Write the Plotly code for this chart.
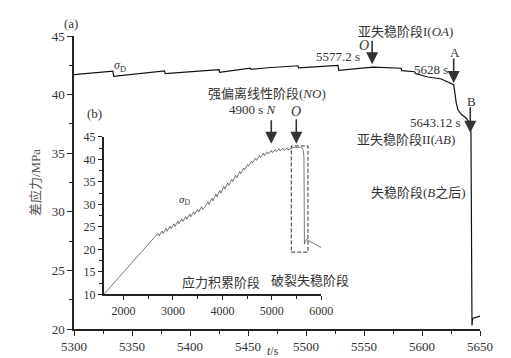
import plotly.graph_objects as go

# Main series (a): time (s) vs differential stress (MPa)
t_main = [5300, 5333.5, 5334.2, 5378, 5378.6, 5425, 5425.6, 5452, 5452.6, 5467,
          5493, 5493.6, 5527.6, 5528.2, 5557.8, 5582, 5582.6, 5593.7, 5594.3,
          5605, 5616, 5622, 5627.3, 5628, 5629.5, 5631, 5634, 5638, 5641,
          5642.2, 5643.1, 5643.6, 5650]
v_main = [41.7, 42.0, 41.55, 42.02, 41.8, 42.12, 41.9, 42.25, 42.15, 42.29,
          42.46, 42.29, 42.49, 42.07, 42.35, 42.25, 42.05, 41.95, 41.8,
          41.5, 41.35, 41.1, 40.85, 40.4, 39.3, 38.7, 38.3, 38.0, 37.6,
          36.8, 20.3, 20.9, 21.1]

# Inset series (b)
t_in = [1600, 2630, 2700, 2720, 2780, 2800, 2860, 2880, 2940, 2960, 3020, 3040,
        3100, 3120, 3180, 3200, 3260, 3280, 3340, 3360, 3420, 3440, 3500, 3520,
        3580, 3600, 3650, 3710, 3730, 3790, 3810, 3870, 3890, 3950, 3970, 4030,
        4050, 4110, 4130, 4190, 4210, 4270, 4290, 4350, 4370, 4430, 4450, 4510,
        4530, 4590, 4610, 4670, 4690, 4750, 4770, 4830, 4850, 4910, 4930, 4990,
        5010, 5070, 5090, 5150, 5170, 5230, 5250, 5310, 5330, 5390, 5420, 5480,
        5560, 5620, 5640, 5650, 5656, 5660, 5672, 5700, 6000]
v_in = [10, 22.7, 23.6, 23.0, 24.1, 23.5, 24.7, 24.0, 25.2, 24.6, 25.7, 25.1,
        26.3, 25.7, 26.8, 26.2, 27.3, 26.7, 27.9, 27.2, 28.4, 27.8, 28.9, 28.3,
        29.5, 28.9, 29.5, 30.6, 30.0, 31.4, 30.8, 32.3, 31.7, 33.1, 32.5, 34.0,
        33.4, 34.8, 34.2, 35.6, 35.1, 36.5, 35.9, 37.3, 36.8, 38.1, 37.7, 38.9,
        38.5, 39.6, 39.2, 40.3, 39.8, 40.9, 40.4, 41.4, 40.8, 41.7, 41.2, 42.0,
        41.5, 42.2, 41.7, 42.4, 41.9, 42.5, 42.0, 42.5, 42.1, 42.4, 42.6, 42.7,
        42.7, 42.5, 41.8, 40.5, 30.0, 21.2, 21.6, 22.2, 20.4]

main_xticks = [5300, 5350, 5400, 5450, 5500, 5550, 5600, 5650]
main_yticks = [20, 25, 30, 35, 40, 45]
in_xticks = [2000, 3000, 4000, 5000, 6000]
in_yticks = [10, 15, 20, 25, 30, 35, 40, 45]

FONT = "Liberation Serif, Noto Sans CJK SC"
TXT = "#333333"

fig = go.Figure()
fig.add_trace(go.Scatter(x=t_main, y=v_main, mode="lines",
                         line=dict(color="#111111", width=1.2),
                         xaxis="x", yaxis="y", showlegend=False))
fig.add_trace(go.Scatter(x=t_in, y=v_in, mode="lines",
                         line=dict(color="#555555", width=0.8),
                         xaxis="x2", yaxis="y2", showlegend=False))

axis_common = dict(showgrid=False, zeroline=False, showline=True,
                   linecolor="#222222", linewidth=1.5, ticks="outside",
                   tickcolor="#222222", tickwidth=1.2, mirror=False)

fig.update_layout(
    width=511, height=358,
    margin=dict(l=66, r=39, t=28, b=31),
    paper_bgcolor="white", plot_bgcolor="white",
    font=dict(family=FONT, color=TXT, size=13),
    xaxis=dict(range=[5300, 5650], tickvals=main_xticks, ticklen=5,
               minor=dict(dtick=25, tick0=5300, ticklen=3, ticks="outside",
                          tickcolor="#222222"),
               tickfont=dict(size=13, color=TXT, family=FONT), **axis_common),
    yaxis=dict(range=[20, 45], tickvals=main_yticks, ticklen=5,
               minor=dict(dtick=2.5, tick0=20, ticklen=3, ticks="outside",
                          tickcolor="#222222"),
               tickfont=dict(size=13, color=TXT, family=FONT),
               title=dict(text="差应力/MPa",
                          font=dict(size=13, color="#555555", family=FONT),
                          standoff=8),
               **axis_common),
    xaxis2=dict(domain=[0.0732, 0.609], anchor="y2", range=[1600, 6000],
                tickvals=in_xticks, ticklen=4,
                minor=dict(dtick=500, tick0=1500, ticklen=2.5, ticks="outside",
                           tickcolor="#222222"),
                tickfont=dict(size=12, color=TXT, family=FONT), **axis_common),
    yaxis2=dict(domain=[0.118, 0.6555], anchor="x2", range=[10, 45],
                tickvals=in_yticks, ticklen=4,
                minor=dict(dtick=2.5, tick0=10, ticklen=2.5, ticks="outside",
                           tickcolor="#222222"),
                tickfont=dict(size=12, color=TXT, family=FONT), **axis_common),
)

# dashed box in inset
fig.add_shape(type="rect", xref="x2", yref="y2", x0=5394, x1=5731, y0=19.4, y1=43.0,
              line=dict(color="#333333", width=1, dash="4px,2px"))

def txt(x, y, s, xref="paper", yref="paper", size=13, xanchor="center"):
    fig.add_annotation(x=x, y=y, xref=xref, yref=yref, text=s, showarrow=False,
                       xanchor=xanchor, yanchor="middle",
                       font=dict(size=size, color=TXT, family=FONT))

def arrow(x, y, ay, xref="x", yref="y"):
    fig.add_annotation(x=x, y=y, xref=xref, yref=yref, text="", showarrow=True,
                       ax=0, ay=ay, arrowhead=2, arrowsize=1.5, arrowwidth=1.6,
                       arrowcolor="#333333")

# main annotations (paper coordinates)
txt(-0.007, 1.043, "(a)")
txt(0.1133, 0.899, "<i>σ</i><sub>D</sub>", size=12)
txt(0.8177, 1.0167, "亚失稳阶段I(<i>OA</i>)")
txt(0.7143, 0.9666, "<i>O</i>", size=14)
arrow(5557, 42.6, -25)
txt(0.6502, 0.9298, "5577.2 s")
txt(0.9377, 0.9431, "A")
arrow(5627.3, 41.0, -26)
txt(0.8793, 0.8873, "5628 s")
txt(0.9786, 0.7759, "B")
arrow(5641.6, 36.74, -27)
txt(0.8904, 0.7033, "5643.12 s")
txt(0.8177, 0.6478, "亚失稳阶段II(<i>AB</i>)")
txt(0.8473, 0.4642, "失稳阶段(<i>B</i>之后)")

# inset annotations (paper coordinates)
txt(0.051, 0.7368, "(b)")
txt(0.4766, 0.8027, "强偏离线性阶段(<i>NO</i>)")
txt(0.4409, 0.7508, "4900 s <i>N</i>")
txt(0.5475, 0.7425, "<i>O</i>", size=14)
arrow(4989, 43.5, -25, xref="x2", yref="y2")
arrow(5495, 43.5, -26, xref="x2", yref="y2")
txt(0.2726, 0.4415, "<i>σ</i><sub>D</sub>", size=11)
txt(0.362, 0.1572, "应力积累阶段")
txt(0.5825, 0.1639, "破裂失稳阶段")

# x title
txt(0.49, -0.075, "<i>t</i>/s", size=12)

fig.write_html("out.html")
